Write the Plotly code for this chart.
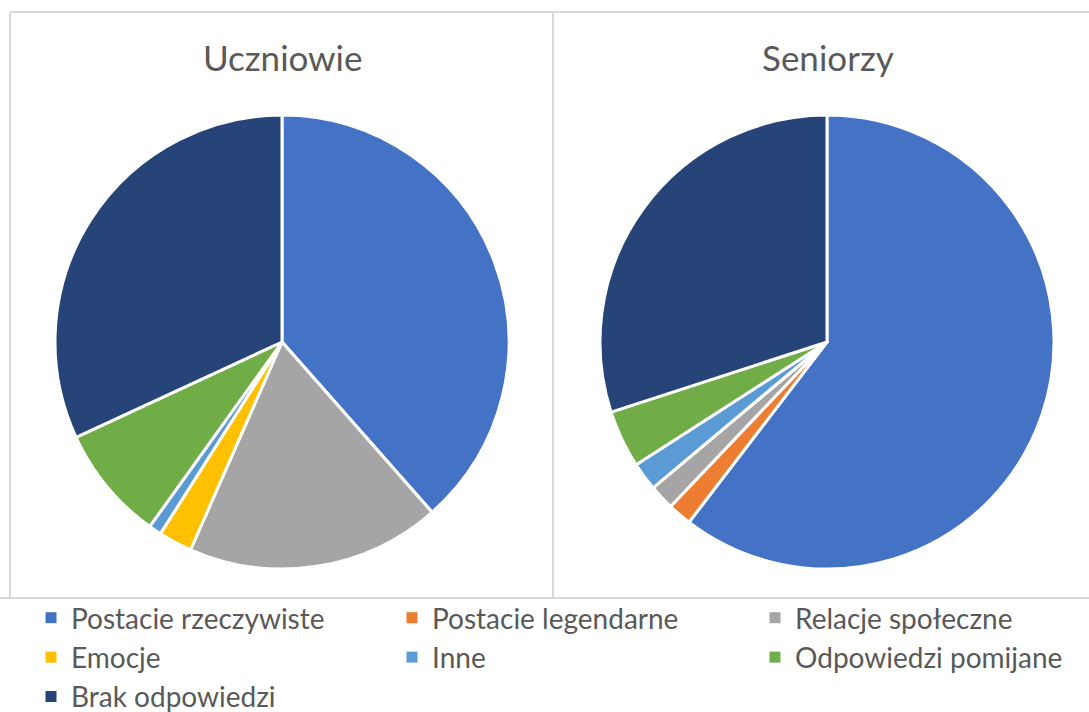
import plotly.graph_objects as go

W, H = 1089, 712

categories = [
    "Postacie rzeczywiste",
    "Postacie legendarne",
    "Relacje społeczne",
    "Emocje",
    "Inne",
    "Odpowiedzi pomijane",
    "Brak odpowiedzi",
]
uczniowie = [38.5, 0.0, 18.1, 2.4, 0.9, 8.2, 31.9]
seniorzy = [60.4, 1.7, 1.8, 0.0, 2.0, 4.1, 30.0]
colors = ["#4472C4", "#ED7D31", "#A5A5A5", "#FFC000", "#5B9BD5", "#70AD47", "#264478"]
titles = ["Uczniowie", "Seniorzy"]

TEXT = "#595959"
GRID = "#D9D9D9"
FONT = "Lato"


def px_x(x):
    return x / W


def px_y(y):
    return 1 - y / H


def domain(cx, cy, r):
    return dict(x=[px_x(cx - r), px_x(cx + r)], y=[px_y(cy + r), px_y(cy - r)])


fig = go.Figure()
for vals, (cx, cy) in zip([uczniowie, seniorzy], [(282, 342), (827, 342)]):
    fig.add_trace(go.Pie(
        labels=categories,
        values=vals,
        sort=False,
        direction="clockwise",
        rotation=0,
        textinfo="none",
        hoverinfo="label+percent",
        showlegend=False,
        marker=dict(colors=colors, line=dict(color="white", width=3)),
        domain=domain(cx, cy, 227),
    ))

# legend laid out in three columns, filled row by row
legend_names = ["legend", "legend2", "legend3"]
for i, (name, color) in enumerate(zip(categories, colors)):
    fig.add_trace(go.Scatter(
        x=[None], y=[None], mode="markers", name=name,
        marker=dict(symbol="square", size=11, color=color),
        legend=legend_names[i % 3], legendgroup=name, showlegend=True,
        hoverinfo="skip",
    ))

# chart area borders
lines = [
    (10, 12, W, 12),
    (10, 12, 10, 598),
    (553, 12, 553, 598),
    (0, 598, W, 598),
]
for x0, y0, x1, y1 in lines:
    fig.add_shape(type="line", xref="paper", yref="paper",
                  x0=px_x(x0), y0=px_y(y0), x1=px_x(x1), y1=px_y(y1),
                  line=dict(color=GRID, width=2), layer="below")

for t, cx in zip(titles, [283, 828]):
    fig.add_annotation(text=t, x=px_x(cx), y=px_y(57), xref="paper", yref="paper",
                       showarrow=False, xanchor="center", yanchor="middle",
                       font=dict(family=FONT, size=35, color=TEXT))

legend_style = dict(
    orientation="v",
    xanchor="left", yanchor="top",
    font=dict(family=FONT, size=28, color=TEXT),
    tracegroupgap=1,
    traceorder="normal",
    bgcolor="rgba(0,0,0,0)",
    itemclick=False, itemdoubleclick=False,
)
legend_cols = [31, 392, 755]
layout_legends = {}
for name, lx in zip(legend_names, legend_cols):
    layout_legends[name] = dict(legend_style, x=px_x(lx), y=px_y(593))

fig.update_layout(
    width=W, height=H,
    margin=dict(l=0, r=0, t=0, b=0, autoexpand=False),
    paper_bgcolor="white",
    plot_bgcolor="white",
    font=dict(family=FONT, color=TEXT),
    xaxis=dict(visible=False),
    yaxis=dict(visible=False),
    **layout_legends,
)

fig.write_html("out.html")
